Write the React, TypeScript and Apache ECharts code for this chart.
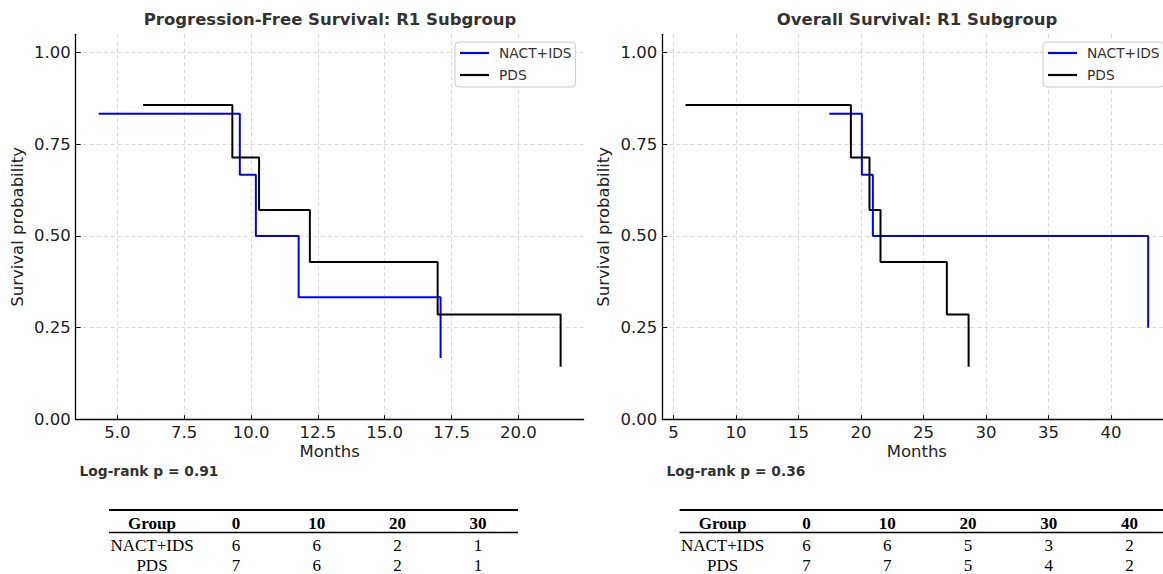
import React, { useEffect, useRef } from 'react';
import * as echarts from 'echarts';

// ---- Data (Kaplan-Meier step points) ----
const pfsNactTimes = [4.3, 9.58, 10.18, 11.78, 17.09];
const pfsNactSurv = [0.833, 0.667, 0.5, 0.333, 0.167];
const pfsPdsTimes = [5.96, 9.3, 10.3, 12.2, 16.98, 21.58];
const pfsPdsSurv = [0.857, 0.714, 0.571, 0.429, 0.286, 0.143];

const osNactTimes = [17.46, 20.07, 20.95, 42.98];
const osNactSurv = [0.833, 0.667, 0.5, 0.25];
const osPdsTimes = [5.96, 19.19, 20.68, 21.56, 26.87, 28.61];
const osPdsSurv = [0.857, 0.714, 0.571, 0.429, 0.286, 0.143];

const pfsXTicks = [5, 7.5, 10, 12.5, 15, 17.5, 20];
const osXTicks = [5, 10, 15, 20, 25, 30, 35, 40];
const yTicks = [0, 0.25, 0.5, 0.75, 1.0];

const groups = ['NACT+IDS', 'PDS'];
const pfsRiskTimes = ['0', '10', '20', '30'];
const pfsRiskNact = [6, 6, 2, 1];
const pfsRiskPds = [7, 6, 2, 1];
const osRiskTimes = ['0', '10', '20', '30', '40'];
const osRiskNact = [6, 6, 5, 3, 2];
const osRiskPds = [7, 7, 5, 4, 2];

const pfsTitle = 'Progression-Free Survival: R1 Subgroup';
const osTitle = 'Overall Survival: R1 Subgroup';
const pfsP = 'Log-rank p = 0.91';
const osP = 'Log-rank p = 0.36';

const SANS = 'DejaVu Sans';
const SERIF = 'Liberation Serif';

function pairs(t: number[], s: number[]) {
  return t.map((x, i) => [x, s[i]]);
}

function makeX(gridIndex: number, min: number, max: number, ticks: number[], fmt: (v: number) => string) {
  return {
    type: 'value',
    gridIndex,
    min,
    max,
    name: 'Months',
    nameLocation: 'middle',
    nameGap: 24,
    nameMoveOverlap: false,
    nameTextStyle: { fontFamily: SANS, fontSize: 16.5, color: '#222' },
    axisLine: { show: true, onZero: false, lineStyle: { color: '#000', width: 1.3 } },
    axisTick: { show: true, inside: true, length: 4, customValues: ticks, lineStyle: { color: '#000', width: 1 } },
    axisLabel: {
      show: true,
      customValues: ticks,
      formatter: (v: number) => fmt(v),
      margin: 5,
      fontFamily: SANS,
      fontSize: 16.5,
      color: '#222',
      hideOverlap: false,
    },
    splitLine: { show: true, lineStyle: { color: '#cfcfcf', type: [4, 3], width: 0.8 } },
  };
}

function makeY(gridIndex: number) {
  return {
    type: 'value',
    gridIndex,
    min: 0,
    max: 1.05,
    name: 'Survival probability',
    nameLocation: 'middle',
    nameGap: 50,
    nameRotate: 90,
    nameMoveOverlap: false,
    nameTextStyle: { fontFamily: SANS, fontSize: 16.5, color: '#222' },
    axisLine: { show: true, onZero: false, lineStyle: { color: '#000', width: 1.3 } },
    axisTick: { show: true, inside: true, length: 5, customValues: yTicks, lineStyle: { color: '#000', width: 1 } },
    axisLabel: {
      show: true,
      customValues: yTicks,
      formatter: (v: number) => v.toFixed(2),
      margin: 5,
      fontFamily: SANS,
      fontSize: 16.5,
      color: '#222',
    },
    splitLine: { show: true, lineStyle: { color: '#cfcfcf', type: [4, 3], width: 0.8 } },
  };
}

function stepSeries(name: string, color: string, xi: number, data: number[][]) {
  return {
    type: 'line',
    name,
    xAxisIndex: xi,
    yAxisIndex: xi,
    step: 'end',
    data,
    color,
    showSymbol: false,
    symbol: 'none',
    lineStyle: { color, width: 2 },
    emphasis: { disabled: true },
  };
}

function legendAt(left: number) {
  return {
    orient: 'vertical',
    left,
    top: 42,
    data: groups,
    icon: 'rect',
    itemWidth: 29,
    itemHeight: 2.2,
    itemGap: 6,
    padding: [3, 4, 4, 5],
    backgroundColor: 'rgba(255,255,255,0.85)',
    borderColor: '#cccccc',
    borderWidth: 1,
    borderRadius: 4,
    selectedMode: false,
    textStyle: { fontFamily: SANS, fontSize: 13.8, color: '#333', lineHeight: 16, padding: [0, 0, 0, 5] },
  };
}

function riskTable(left: number, times: string[], nact: number[], pds: number[], ruleEnd: number) {
  const els: any[] = [];
  const groupX = left + 43;
  const firstCol = groupX + 84;
  const colStep = 80.7;
  const headY = 523;
  const rowY = [545, 565];
  els.push({ type: 'line', shape: { x1: left, y1: 510, x2: ruleEnd, y2: 510 }, style: { stroke: '#000', lineWidth: 2 } });
  els.push({ type: 'line', shape: { x1: left, y1: 532.5, x2: ruleEnd, y2: 532.5 }, style: { stroke: '#000', lineWidth: 1.6 } });
  const txt = (x: number, y: number, text: string, bold: boolean) => ({
    type: 'text',
    x,
    y,
    style: {
      text,
      align: 'center',
      verticalAlign: 'middle',
      fontFamily: SERIF,
      fontSize: 17,
      fontWeight: bold ? 'bold' : 'normal',
      fill: '#000',
    },
  });
  els.push(txt(groupX, headY, 'Group', true));
  times.forEach((t, i) => els.push(txt(firstCol + i * colStep, headY, t, true)));
  els.push(txt(groupX, rowY[0], groups[0], false));
  els.push(txt(groupX, rowY[1], groups[1], false));
  nact.forEach((v, i) => els.push(txt(firstCol + i * colStep, rowY[0], String(v), false)));
  pds.forEach((v, i) => els.push(txt(firstCol + i * colStep, rowY[1], String(v), false)));
  return els;
}

export default function App() {
  const ref = useRef<HTMLDivElement>(null);
  useEffect(() => {
    if (!ref.current) return;
    const chart = echarts.init(ref.current, null, { renderer: 'svg' });
    const titleStyle = { fontFamily: SANS, fontWeight: 'bold', fontSize: 16.5, color: '#333' };
    const pText = (x: number, text: string) => ({
      type: 'text',
      x,
      y: 471,
      style: { text, align: 'left', verticalAlign: 'middle', fontFamily: SANS, fontWeight: 'bold', fontSize: 13.8, fill: '#333' },
    });
    const option: any = {
      animation: false,
      backgroundColor: '#ffffff',
      title: [
        { text: pfsTitle, left: 330, top: 11, textAlign: 'center', padding: 0, textStyle: titleStyle },
        { text: osTitle, left: 917, top: 11, textAlign: 'center', padding: 0, textStyle: titleStyle },
      ],
      legend: [legendAt(455), legendAt(1043)],
      grid: [
        { left: 75.7, top: 34.3, width: 507.9, height: 385, containLabel: false, outerBoundsMode: 'none' },
        { left: 662.3, top: 34.3, width: 509, height: 385, containLabel: false, outerBoundsMode: 'none' },
      ],
      xAxis: [
        makeX(0, 3.44, 22.44, pfsXTicks, (v) => v.toFixed(1)),
        makeX(1, 4.1, 44.83, osXTicks, (v) => String(v)),
      ],
      yAxis: [makeY(0), makeY(1)],
      series: [
        stepSeries('NACT+IDS', '#0000ff', 0, pairs(pfsNactTimes, pfsNactSurv)),
        stepSeries('PDS', '#000000', 0, pairs(pfsPdsTimes, pfsPdsSurv)),
        stepSeries('NACT+IDS', '#0000ff', 1, pairs(osNactTimes, osNactSurv)),
        stepSeries('PDS', '#000000', 1, pairs(osPdsTimes, osPdsSurv)),
      ],
      graphic: [
        pText(79.5, pfsP),
        pText(666.5, osP),
        ...riskTable(109, pfsRiskTimes, pfsRiskNact, pfsRiskPds, 518),
        ...riskTable(679.6, osRiskTimes, osRiskNact, osRiskPds, 1200),
      ],
    };
    chart.setOption(option);
    return () => chart.dispose();
  }, []);
  return (
    <div
      ref={ref}
      style={{ position: 'fixed', left: 0, top: 0, width: 1163, height: 574, background: '#fff' }}
    />
  );
}
